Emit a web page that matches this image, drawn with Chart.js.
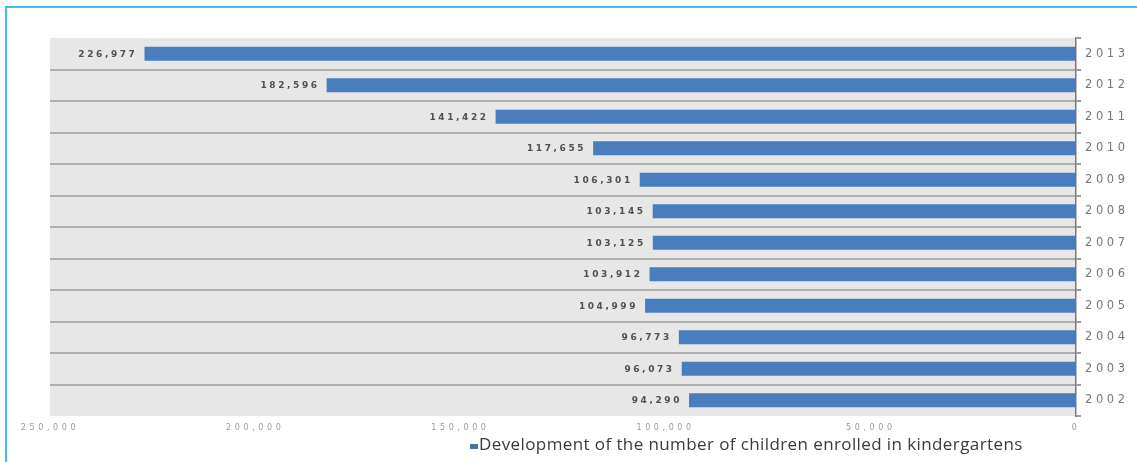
<!DOCTYPE html>
<html>
<head>
<meta charset="utf-8">
<script src="https://cdn.jsdelivr.net/npm/chart.js@4.4.1/dist/chart.umd.min.js"></script>
<style>
  html, body { margin: 0; padding: 0; background: #ffffff; overflow: hidden; }
  #wrap { position: relative; width: 1137px; height: 462px; }
  #frame {
    position: absolute; left: 5px; top: 6px; width: 1300px; height: 600px;
    border-top: 2px solid #38c0ee; border-left: 2px solid #38c0ee;
  }
  #chart { position: absolute; left: 0; top: 0; }
</style>
</head>
<body>
<div id="wrap">
  <div id="frame"></div>
  <canvas id="chart" width="1137" height="462"></canvas>
</div>
<script>
// Kindergarten enrolment per school year, newest at the top
const years = ['2013', '2012', '2011', '2010', '2009', '2008', '2007', '2006', '2005', '2004', '2003', '2002'];
const children = [226977, 182596, 141422, 117655, 106301, 103145, 103125, 103912, 104999, 96773, 96073, 94290];
const seriesLabel = 'Development of the number of children enrolled in kindergartens';
const axisMin = 0;
const axisMax = 250000;
const axisStep = 50000;

const fmt = v => v.toLocaleString('en-US');

// grey plot background and spaced-out text for the axes
const backdrop = {
  id: 'backdrop',
  beforeDraw(chart) {
    const { ctx, chartArea: a } = chart;
    ctx.save();
    ctx.fillStyle = '#e7e7e7';
    ctx.fillRect(a.left, a.top, a.right - a.left, a.bottom - a.top);
    ctx.restore();
    ctx.letterSpacing = '3.6px';
  }
};

// value printed just left of each bar's end
const valueLabels = {
  id: 'valueLabels',
  afterDatasetsDraw(chart) {
    const { ctx } = chart;
    const meta = chart.getDatasetMeta(0);
    const data = chart.data.datasets[0].data;
    ctx.save();
    ctx.letterSpacing = '2.6px';
    ctx.font = 'bold 9px "DejaVu Sans"';
    ctx.fillStyle = '#505050';
    ctx.textAlign = 'right';
    ctx.textBaseline = 'middle';
    meta.data.forEach((bar, i) => {
      ctx.fillText(fmt(data[i]), bar.x - 7, bar.y + 0.5);
    });
    ctx.restore();
  }
};

// single-entry legend under the axis
const bottomLegend = {
  id: 'bottomLegend',
  afterDraw(chart) {
    const { ctx } = chart;
    const ds = chart.data.datasets[0];
    ctx.save();
    ctx.letterSpacing = '0.4px';
    ctx.fillStyle = '#4a6ea6';
    ctx.fillRect(470, 444, 8, 5);
    ctx.font = '17px "Open Sans"';
    ctx.fillStyle = '#3a3a3a';
    ctx.textAlign = 'left';
    ctx.textBaseline = 'alphabetic';
    ctx.fillText(ds.label, 479, 450);
    ctx.restore();
  }
};

Chart.defaults.font.family = '"DejaVu Sans"';

new Chart(document.getElementById('chart'), {
  type: 'bar',
  data: {
    labels: years,
    datasets: [{
      label: seriesLabel,
      data: children,
      backgroundColor: '#4a7dbd',
      borderWidth: 0,
      barPercentage: 0.9,
      categoryPercentage: 0.49
    }]
  },
  options: {
    indexAxis: 'y',
    responsive: false,
    animation: false,
    devicePixelRatio: 1,
    layout: { padding: { left: 50, top: 38, right: 0, bottom: 0 } },
    plugins: {
      legend: { display: false },
      tooltip: { enabled: false }
    },
    scales: {
      x: {
        type: 'linear',
        min: axisMin,
        max: axisMax,
        reverse: true,
        position: 'bottom',
        grid: { display: false, drawTicks: false },
        border: { display: false },
        ticks: {
          stepSize: axisStep,
          maxRotation: 0,
          autoSkip: false,
          padding: 7,
          color: '#9a9a9a',
          font: { size: 8 },
          callback: v => fmt(v)
        },
        afterFit(scale) { scale.height = 46; }
      },
      y: {
        position: 'right',
        grid: {
          offset: true,
          lineWidth: 2,
          tickLength: 5,
          color: ctx => (ctx.type !== 'tick' || ctx.index === 0) ? 'rgba(0,0,0,0)' : '#afafaf',
          tickColor: '#9a9a9a'
        },
        border: { display: true, color: '#7a7a7a', width: 1.5 },
        ticks: {
          padding: 4,
          color: '#777777',
          font: { size: 11.5 }
        },
        afterFit(scale) { scale.width = 61; }
      }
    }
  },
  plugins: [backdrop, valueLabels, bottomLegend]
});
</script>
</body>
</html>
